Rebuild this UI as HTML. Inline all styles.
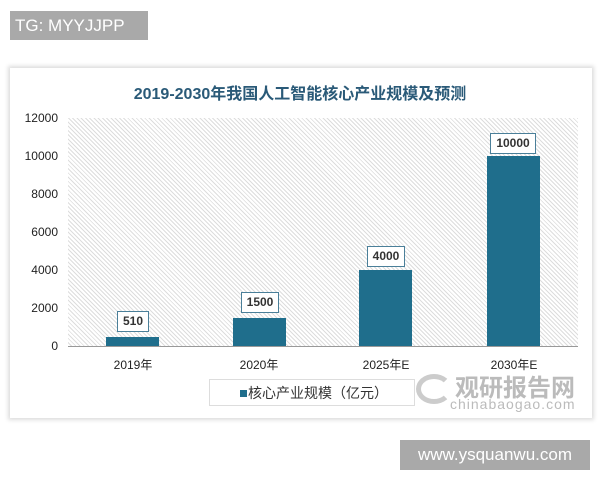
<!DOCTYPE html>
<html><head><meta charset="utf-8"><style>
body{margin:0;width:600px;height:480px;background:#fff;position:relative;overflow:hidden;font-family:"Liberation Sans","Noto Sans CJK SC",sans-serif}
.tg{position:absolute;left:10px;top:11px;width:138px;height:29px;background:#a9a9a9;color:#fff;font-size:17px;line-height:29px;padding-left:5px;box-sizing:border-box}
.www{position:absolute;left:400px;top:440px;width:190px;height:30px;background:#a9a9a9;color:#fff;font-size:17px;line-height:30px;text-align:center}
.card{position:absolute;left:10px;top:68px;width:582px;height:350px;background:#fff;box-shadow:0 0 4px 2px #ddd}
.title{position:absolute;left:0;width:600px;top:80px;text-align:center;font-weight:bold;color:#2a5a78;font-size:16px}
.plot{position:absolute;left:68px;top:118px;width:510px;height:228px;background:repeating-linear-gradient(45deg,#fff 0 2px,#ddd 2px 3px);border-bottom:1px solid #999}
.yl{position:absolute;left:20px;width:38px;text-align:right;font-size:12px;color:#222}
.bar{position:absolute;background:#1f6e8c;width:53px}
.lb{position:absolute;border:1px solid #4a7f99;background:#fff;font-size:12px;font-weight:bold;color:#333;text-align:center;height:19px;line-height:19px}
.xl{position:absolute;top:356px;font-size:12px;color:#222;width:80px;text-align:center}
.leg{position:absolute;left:209px;top:379px;width:206px;height:27px;border:1px solid #ddd;font-size:14px;color:#333;line-height:27px;padding-left:28px;box-sizing:border-box}
.leg:before{content:"";position:absolute;left:30px;top:10px;width:7px;height:7px;background:#1f6e8c}
.leg span{padding-left:10px}
.wm{position:absolute;left:455px;top:368px;font-size:24px;font-weight:bold;color:#bbb}
.wm2{position:absolute;left:450px;top:396px;font-size:14px;color:#bbb;letter-spacing:1px}
</style></head><body>
<div class="tg">TG: MYYJJPP</div>
<div class="card"></div>
<div class="title">2019-2030年我国人工智能核心产业规模及预测</div>
<div class="plot"></div>
<div class="yl" style="top:111px">12000</div>
<div class="yl" style="top:149px">10000</div>
<div class="yl" style="top:187px">8000</div>
<div class="yl" style="top:225px">6000</div>
<div class="yl" style="top:263px">4000</div>
<div class="yl" style="top:301px">2000</div>
<div class="yl" style="top:339px">0</div>
<div class="bar" style="left:106px;top:337px;height:9px"></div>
<div class="bar" style="left:233px;top:318px;height:28px"></div>
<div class="bar" style="left:359px;top:270px;height:76px"></div>
<div class="bar" style="left:487px;top:156px;height:190px"></div>
<div class="lb" style="left:117px;top:311px;width:30px">510</div>
<div class="lb" style="left:241px;top:292px;width:36px">1500</div>
<div class="lb" style="left:367px;top:246px;width:36px">4000</div>
<div class="lb" style="left:490px;top:133px;width:44px">10000</div>
<div class="xl" style="left:93px">2019年</div>
<div class="xl" style="left:219px">2020年</div>
<div class="xl" style="left:346px">2025年E</div>
<div class="xl" style="left:474px">2030年E</div>
<div class="leg"><span>核心产业规模（亿元）</span></div>
<div class="wm">观研报告网</div>
<div class="wm2">chinabaogao.com</div>
<div style="position:absolute;left:416px;top:374px;width:26px;height:20px;border:5px solid #ccc;border-radius:50%;border-right-color:transparent"></div>
<div class="www">www.ysquanwu.com</div>
</body></html>
